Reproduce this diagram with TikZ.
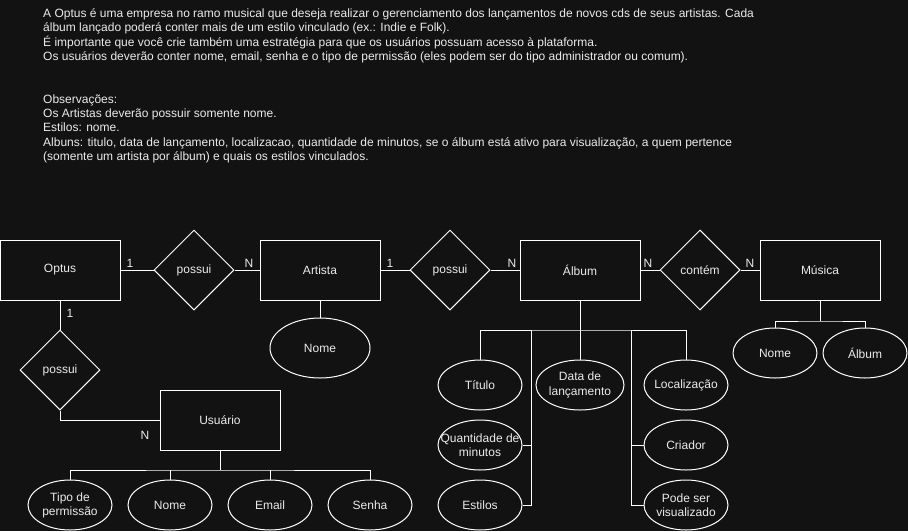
\documentclass[tikz,border=0pt]{standalone}
\usepackage{fontspec}
\setmainfont{Liberation Sans}
\usetikzlibrary{shapes.geometric}
\definecolor{bg}{RGB}{18,18,18}
\definecolor{fg}{RGB}{235,235,235}
\definecolor{ln}{RGB}{255,255,255}
\begin{document}
\begin{tikzpicture}[x=1pt,y=-1pt,
  every node/.style={font=\fontsize{12}{14.2}\selectfont, text=fg},
  entity/.style={draw=ln, line width=1pt, minimum width=120pt, minimum height=60pt, inner sep=0pt},
  rel/.style={draw=ln, line width=1pt, diamond, aspect=1, minimum width=80pt, minimum height=80pt, inner sep=0pt},
  attr/.style={draw=ln, line width=1pt, ellipse, minimum width=84pt, minimum height=50pt, inner sep=0pt},
  conn/.style={draw=ln, line width=1pt},
  txt/.style={anchor=base west, inner sep=0pt},
  card/.style={inner sep=0pt},
  lbl/.style={align=center, inner sep=0pt}
]
\fill[bg] (0,0) rectangle (908,531);
\useasboundingbox (0,0) rectangle (908,531);

% header text
\node[txt] (t1) at (43,17.5) {A Optus é uma empresa no ramo musical que deseja realizar o gerenciamento dos lançamentos de novos cds de seus artistas. Cada};
\node[txt] (t2) at (43,31.7) {álbum lançado poderá conter mais de um estilo vinculado (ex.: Indie e Folk).};
\node[txt] (t3) at (43,46) {É importante que você crie também uma estratégia para que os usuários possuam acesso à plataforma.};
\node[txt] (t4) at (43,60.2) {Os usuários deverão conter nome, email, senha e o tipo de permissão (eles podem ser do tipo administrador ou comum).};
\node[txt] (t5) at (43,103) {Observações:};
\node[txt] (t6) at (43,117.4) {Os Artistas deverão possuir somente nome.};
\node[txt] (t7) at (43,131.8) {Estilos: nome.};
\node[txt] (t8) at (43,146.2) {Albuns: titulo, data de lançamento, localizacao, quantidade de minutos, se o álbum está ativo para visualização, a quem pertence};
\node[txt] (t9) at (43,160.6) {(somente um artista por álbum) e quais os estilos vinculados.};

% entities
\node[entity] (optus) at (60,270) {Optus};
\node[entity] (artista) at (320,270) {Artista};
\node[entity] (album) at (580,270) {Álbum};
\node[entity] (musica) at (820,270) {Música};
\node[entity] (usuario) at (220,420) {Usuário};

% relationships
\node[rel] (p1) at (194,270) {possui};
\node[rel] (p2) at (450,270) {possui};
\node[rel] (ct) at (700,270) {contém};
\node[rel] (p3) at (60,370) {possui};

% attributes
\node[attr, minimum width=100pt, minimum height=60pt, label={[lbl]center:Nome}] (anome) at (320,348) {};
\node[attr, label={[lbl]center:Título}] (titulo) at (480,385) {};
\node[attr, minimum width=88pt, label={[lbl]center:{Data de\\lançamento}}] (data) at (580,385) {};
\node[attr, label={[lbl]center:Localização}] (local) at (686,385) {};
\node[attr, label={[lbl]center:{Quantidade de\\minutos}}] (qtd) at (480,445) {};
\node[attr, label={[lbl]center:Estilos}] (estilos) at (480,505) {};
\node[attr, label={[lbl]center:Criador}] (criador) at (686,445) {};
\node[attr, label={[lbl]center:{Pode ser\\visualizado}}] (pode) at (686,505) {};
\node[attr, label={[lbl]center:Nome}] (mnome) at (775,353) {};
\node[attr, label={[lbl]center:Álbum}] (malbum) at (865,353) {};
\node[attr, label={[lbl]center:{Tipo de\\permissão}}] (tipo) at (70,505) {};
\node[attr, label={[lbl]center:Nome}] (unome) at (170,505) {};
\node[attr, label={[lbl]center:Email}] (email) at (270,505) {};
\node[attr, label={[lbl]center:Senha}] (senha) at (370,505) {};

% cardinalities
\node[card] (c1) at (130,263) {1};
\node[card] (c2) at (249,263) {N};
\node[card] (c3) at (390,263) {1};
\node[card] (c4) at (512,263) {N};
\node[card] (c5) at (648,263) {N};
\node[card] (c6) at (750,263) {N};
\node[card] (c7) at (70,313) {1};
\node[card] (c8) at (145,435) {N};

% relationship connectors
\draw[conn] (optus) -- (p1) -- (artista);
\draw[conn] (artista) -- (p2) -- (album);
\draw[conn] (album) -- (ct) -- (musica);
\draw[conn] (optus) -- (p3);
\draw[conn] (p3.south) |- (usuario.west);

% artista attribute
\draw[conn] (artista) -- (anome);

% album attributes
\coordinate (aj) at (580,330);
\coordinate (ls) at (531,330);
\coordinate (rs) at (631,330);
\draw[conn] (album.south) -- (aj);
\draw[conn] (titulo.north) |- (aj) -| (local.north);
\draw[conn] (aj) -- (data.north);
\draw[conn] (ls) |- (estilos.east);
\draw[conn] (qtd.east) -- (qtd.east -| ls);
\draw[conn] (rs) |- (pode.west);
\draw[conn] (criador.west) -- (criador.west -| rs);

% musica attributes
\coordinate (mj) at (820,321);
\draw[conn] (musica.south) -- (mj);
\draw[conn] (mnome.north) |- (mj) -| (malbum.north);

% usuario attributes
\coordinate (uj) at (220,470);
\draw[conn] (usuario.south) -- (uj);
\draw[conn] (tipo.north) |- (uj) -| (senha.north);
\draw[conn] (unome.north) -- (unome.north |- uj);
\draw[conn] (email.north) -- (email.north |- uj);
\end{tikzpicture}
\end{document}
